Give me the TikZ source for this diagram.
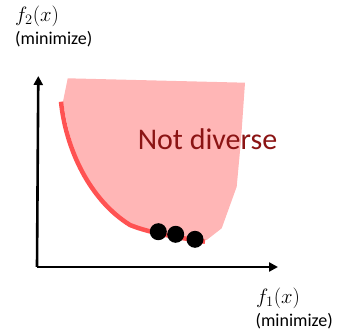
\documentclass[tikz,border=0pt]{standalone}
\usepackage{fontspec}
\setmainfont{Carlito}
\usetikzlibrary{arrows.meta}
\definecolor{regionfill}{RGB}{255,182,182}
\definecolor{frontred}{RGB}{255,82,82}
\definecolor{labelred}{RGB}{139,20,20}
\tikzset{
  axis/.style={line width=2.6pt,-{Triangle[length=9pt,width=9pt]}},
  frontline/.style={line width=4.5pt,frontred},
  sol/.style={circle,fill=black,inner sep=0pt,minimum size=17pt},
  lbl/.style={inner sep=0pt,font=\fontsize{18}{20}\selectfont},
  mlbl/.style={inner sep=0pt,font=\fontsize{21}{23}\selectfont},
}
\begin{document}
\begin{tikzpicture}[x=1pt,y=-1pt]
\useasboundingbox (0,0) rectangle (338,332);
% feasible region
\fill[regionfill] (67.7,78.3) -- (245,82.7) -- (241,140) -- (236.7,186.7) -- (221.7,228.3) -- (206.7,240)
  -- (173,236.7) -- (150,231.7) -- (130,225) .. controls (95,212) and (72,160) .. (63,101.7) -- cycle;
% front
\draw[frontline] (61,101.7) .. controls (66,150) and (90,200) .. (130,225) .. controls (150,233) and (175,237) .. (205,241.7);
% axes
\coordinate (o) at (38.3,267);
\coordinate (ytip) at (38.3,76);
\coordinate (xtip) at (278,267);
\draw[axis] ([xshift=-1.3pt]o) -- (ytip);
\draw[axis] ([xshift=-1.3pt]o) -- (xtip);
% solutions
\node[sol] (s1) at (158.3,231.7) {};
\node[sol] (s2) at (175.7,234.3) {};
\node[sol] (s3) at (195,239.3) {};
% text
\node[anchor=base,inner sep=0pt,text=labelred,font=\fontsize{30}{32}\selectfont] (nd) at (207.5,149) {Not diverse};
\node[mlbl,anchor=base west] (f2) at (15,21) {$f_2(x)$};
\node[lbl,anchor=base west] (m2) at (15,44) {(minimize)};
\node[mlbl,anchor=base west] (f1) at (256,303) {$f_1(x)$};
\node[lbl,anchor=base east] (m1) at (333,326) {(minimize)};
\end{tikzpicture}
\end{document}
